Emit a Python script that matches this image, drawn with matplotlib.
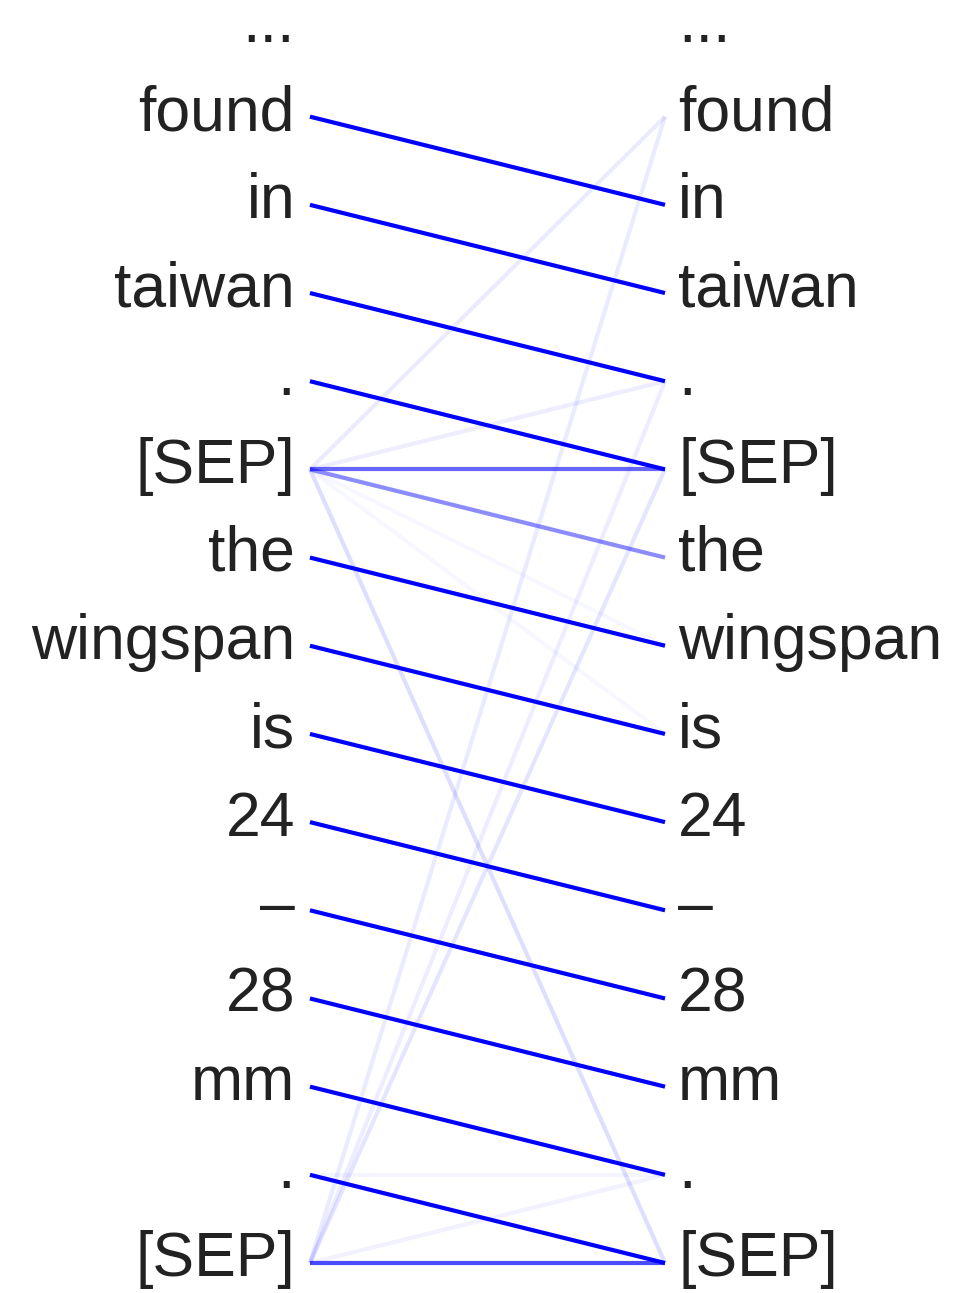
import matplotlib
matplotlib.use('Agg')
from matplotlib import pyplot as plt
import numpy as np

plt.rcParams['font.family'] = ['Liberation Sans', 'DejaVu Sans']

tokens = ['...', 'found', 'in', 'taiwan', '.', '[SEP]', 'the', 'wingspan',
          'is', '24', '–', '28', 'mm', '.', '[SEP]']

# attention edges: source row (left) -> target row (right), weight = opacity
src = [1, 2, 3, 4, 6, 7, 8, 9, 10, 11, 12, 13,
       5, 5, 5, 5, 5, 5, 5,
       14, 14, 14, 14, 14, 13]
dst = [2, 3, 4, 5, 7, 8, 9, 10, 11, 12, 13, 14,
       5, 6, 1, 4, 14, 7, 8,
       14, 1, 4, 5, 13, 13]
weight = [1, 1, 1, 1, 1, 1, 1, 1, 1, 1, 1, 1,
          0.6, 0.45, 0.08, 0.07, 0.13, 0.03, 0.03,
          0.7, 0.08, 0.07, 0.1, 0.05, 0.04]

fig = plt.figure(figsize=(9.54, 12.93), dpi=100)
ax = fig.add_axes([0, 0, 1, 1])
ax.set_xlim(-0.873, 1.814)
ax.set_ylim(14.34, -0.323)
ax.axis('off')

for s, d, w in sorted(zip(src, dst, weight), key=lambda t: t[2]):
    ax.plot([0, 1], [s, d], color='blue', alpha=w, lw=3.0, solid_capstyle='butt')

for i, tok in enumerate(tokens):
    ax.text(-0.042, i - 0.035, tok, ha='right', va='center', fontsize=45, color='#222222')
    ax.text(1.037, i - 0.035, tok, ha='left', va='center', fontsize=45, color='#222222')

fig.savefig('out.png', dpi=100)
